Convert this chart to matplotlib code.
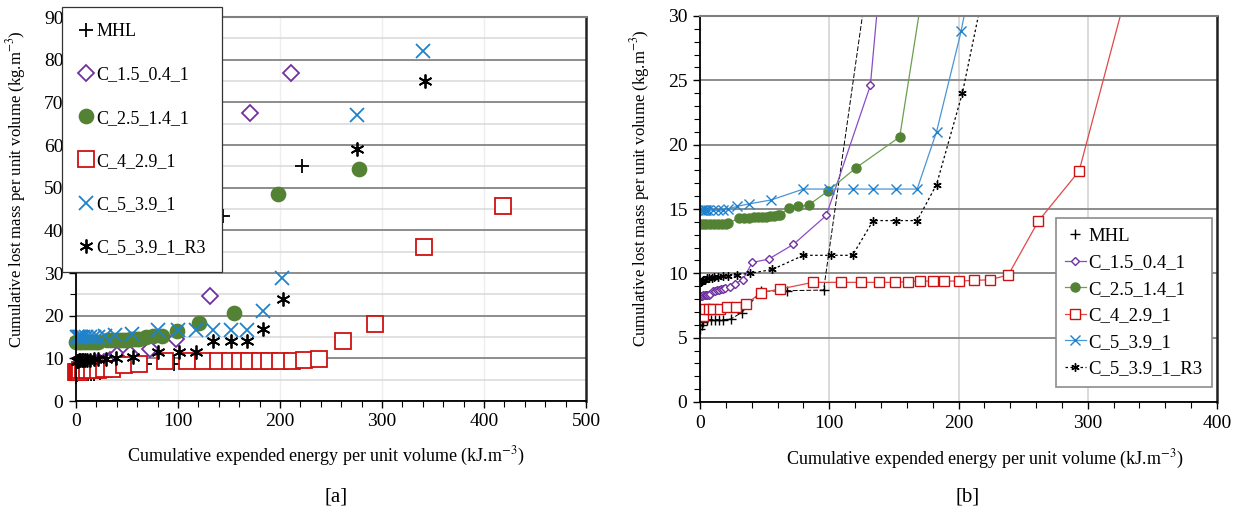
import numpy as np
import matplotlib.pyplot as plt
from matplotlib.ticker import MultipleLocator

plt.rcParams['font.family'] = ['Liberation Serif', 'DejaVu Serif']
plt.rcParams['mathtext.fontset'] = 'stix'

# data (energy kJ/m3, lost mass kg/m3)
mhl_x = [0, 1.3, 2.6, 5.2, 8.3, 11.6, 15, 18, 23.8, 32.3, 47.3, 67.2, 95.6, 144.4, 221.3]
mhl_y = [5.7, 6.0, 6.25, 6.4, 6.4, 6.4, 6.4, 6.4, 6.45, 6.95, 8.6, 8.65, 8.7, 43.3, 55.0]

c15_x = [0.5, 1.5, 2.5, 3.5, 4.5, 5.5, 7, 8, 10, 11.5, 13, 14.5, 16, 17.5, 19.5, 23.3, 27, 33,
         40.5, 53, 72.3, 97.7, 131.8, 170.6, 210.8]
c15_y = [8.25, 8.25, 8.28, 8.3, 8.3, 8.3, 8.35, 8.4, 8.6, 8.65, 8.7, 8.72, 8.75, 8.8, 8.85, 8.96,
         9.2, 9.5, 10.85, 11.1, 12.25, 14.5, 24.6, 67.6, 76.8]

c25_x = [0, 2.5, 5, 8, 11, 14, 17, 20, 22, 30, 34, 38, 42, 45, 48, 51, 54, 57, 60, 62,
         68.5, 75.7, 84, 99, 120.7, 154.5, 198.3, 277.5]
c25_y = [13.8, 13.8, 13.8, 13.8, 13.8, 13.85, 13.85, 13.85, 13.9, 14.3, 14.3, 14.3, 14.35, 14.35,
         14.4, 14.4, 14.45, 14.45, 14.5, 14.5, 15.1, 15.2, 15.3, 16.4, 18.2, 20.6, 48.5, 54.3]

c4_x = [0.3, 1, 1.7, 2.5, 3.9, 7.2, 10.3, 15.5, 21.2, 27.9, 35.7, 47, 62, 87.4, 109, 124.6, 138.8,
        150.6, 161, 170, 180, 189, 200, 212, 224, 238.5, 261.8, 293.3, 341, 419]
c4_y = [6.7, 6.7, 6.7, 6.7, 7.2, 7.2, 7.2, 7.2, 7.35, 7.4, 7.6, 8.5, 8.78, 9.3, 9.3, 9.3, 9.3,
        9.3, 9.35, 9.4, 9.4, 9.4, 9.4, 9.45, 9.5, 9.87, 14.06, 17.95, 36.0, 45.7]

c5_x = [0.5, 1.5, 2.5, 3.5, 5, 6.5, 10, 14, 18, 21.5, 28.5, 38, 55, 80, 100, 118, 134, 152, 168,
        183, 202, 275, 340]
c5_y = [14.9, 14.9, 14.9, 14.9, 14.9, 14.9, 14.9, 14.9, 14.9, 15.0, 15.2, 15.4, 15.7, 16.55,
        16.55, 16.55, 16.55, 16.55, 16.55, 21.0, 28.8, 67.0, 82.0]

r3_x = [0.5, 1.5, 2.5, 4, 5.5, 7, 9, 11, 14, 18, 22, 29, 39, 56, 80, 101, 118, 134, 152, 168,
        183, 203, 275, 342]
r3_y = [9.3, 9.4, 9.5, 9.5, 9.6, 9.6, 9.6, 9.7, 9.7, 9.8, 9.8, 9.9, 10.0, 10.3, 11.4, 11.4, 11.4,
        14.1, 14.1, 14.1, 16.9, 24.0, 59.0, 75.0]

labels = ['MHL', 'C_1.5_0.4_1', 'C_2.5_1.4_1', 'C_4_2.9_1', 'C_5_3.9_1', 'C_5_3.9_1_R3']
xs = [mhl_x, c15_x, c25_x, c4_x, c5_x, r3_x]
ys = [mhl_y, c15_y, c25_y, c4_y, c5_y, r3_y]

purple = '#7030A0'
green = '#548235'
red = '#D01010'
blue = '#1F82CC'
ast = (6, 2, 0)

# marker style per series: (marker, edge colour, face colour, size a, size b, line colour, line style)
sty = [('+', 'black', 'black', 10, 7, 'black', (0, (5, 2))),
       ('D', purple, 'white', 8, 4, '#8A4CC8', '-'),
       ('o', green, green, 10, 6.5, '#6E9E50', '-'),
       ('s', red, 'white', 11, 7, '#E04848', '-'),
       ('x', blue, blue, 10, 7, '#4A95D6', '-'),
       (ast, 'black', 'black', 10, 6, 'black', (0, (2, 2)))]

fig = plt.figure(figsize=(12.36, 5.14), dpi=100)
ax1 = fig.add_axes([76/1236, 1-401/514, 510/1236, 384/514])
ax2 = fig.add_axes([700/1236, 1-402/514, 517/1236, 386/514])


def style(ax, xmax, ymax, ymaj, ymin):
    ax.set_xlim(0, xmax)
    ax.set_ylim(0, ymax)
    ax.xaxis.set_major_locator(MultipleLocator(100))
    ax.xaxis.set_minor_locator(MultipleLocator(20))
    ax.yaxis.set_major_locator(MultipleLocator(ymaj))
    ax.yaxis.set_minor_locator(MultipleLocator(ymin))
    ax.tick_params(which='major', direction='out', length=5, width=1, labelsize=14, pad=4)
    ax.tick_params(which='minor', direction='out', length=4, width=0.8)
    ax.set_axisbelow(True)
    for s in ['left', 'bottom']:
        ax.spines[s].set_color('black')
        ax.spines[s].set_linewidth(1.3)
    ax.spines['right'].set_color('#222222')
    ax.spines['right'].set_linewidth(1.8)
    ax.spines['top'].set_color('#7f7f7f')
    ax.spines['top'].set_linewidth(1.5)
    ax.set_xlabel('Cumulative expended energy per unit volume (kJ.m$^{-3}$)', fontsize=13)
    ax.set_ylabel('Cumulative lost mass per unit volume (kg.m$^{-3}$)', fontsize=12)


style(ax1, 500, 90, 10, 5)
ax1.grid(which='major', axis='y', color='#8c8c8c', lw=1.4)
ax1.grid(which='minor', axis='y', color='#d9d9d9', lw=1.1)
ax1.grid(which='major', axis='x', color='#eeeeee', lw=1)
ax1.xaxis.set_label_coords(0.49, -0.115)
ax1.yaxis.set_label_coords(-0.094, 0.553)

style(ax2, 400, 30, 5, 1)
ax2.grid(which='major', axis='y', color='#8c8c8c', lw=1.4)
ax2.grid(which='major', axis='x', color='#d4d4d4', lw=1.2)
ax2.xaxis.set_label_coords(0.55, -0.12)
ax2.yaxis.set_label_coords(-0.093, 0.553)

# [a] scatter only
for x, y, lab, (m, ec, fc, sa, sb, lc, ls) in zip(xs, ys, labels, sty):
    ax1.plot(x, y, ls='none', marker=m, ms=sa, mec=ec, mfc=fc, mew=1.3, label=lab, clip_on=False)

# [b] lines + small markers
for i, (x, y, lab, (m, ec, fc, sa, sb, lc, ls)) in enumerate(zip(xs, ys, labels, sty)):
    if i == 0:
        ax2.plot(x, y, color=lc, lw=0.7, ls=ls)
        ax2.plot(x, y, ls='none', marker=m, ms=sb, mec=ec, mfc=fc, mew=1.0, label=lab)
    else:
        ax2.plot(x, y, color=lc, lw=0.9, ls=ls, marker=m, ms=sb, mec=ec, mfc=fc, mew=1.0,
                 label=lab)

leg1 = ax1.legend(loc='upper left', bbox_to_anchor=(-0.027, 1.026), borderaxespad=0,
                  fontsize=13, labelspacing=1.45, handlelength=0.8, handletextpad=0.2,
                  fancybox=False, edgecolor='#333333', framealpha=1, borderpad=0.9)
leg1.get_frame().set_linewidth(0.9)

leg2 = ax2.legend(loc='lower right', bbox_to_anchor=(0.99, 0.04), borderaxespad=0,
                  fontsize=13.5, labelspacing=0.5, handlelength=1.1, handletextpad=0.15,
                  fancybox=False, edgecolor='#8c8c8c', framealpha=1, borderpad=0.5)
leg2.get_frame().set_linewidth(1.2)

fig.text(336/1236, 1-497/514, '[a]', ha='center', va='center', fontsize=15)
fig.text(968/1236, 1-497/514, '[b]', ha='center', va='center', fontsize=15)

fig.savefig('out.png', dpi=100)
